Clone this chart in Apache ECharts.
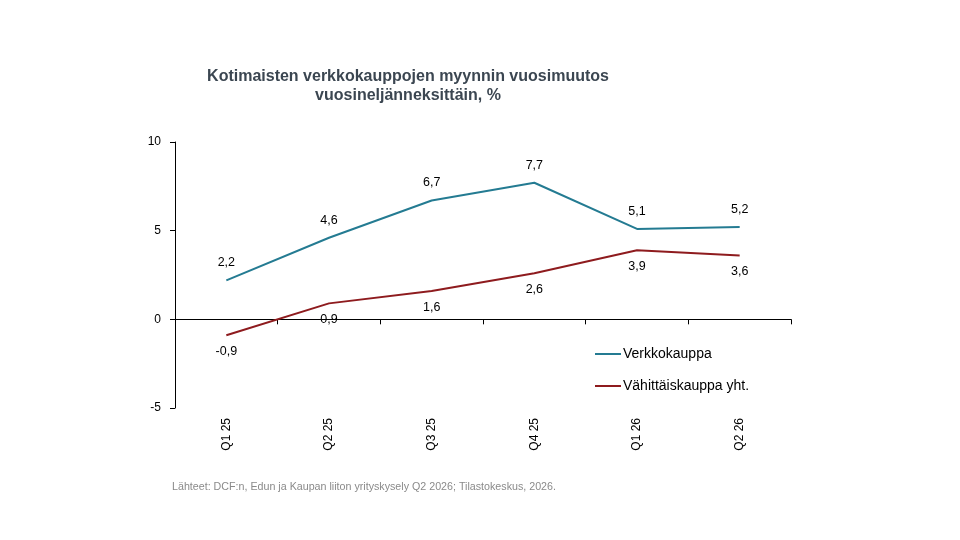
<!DOCTYPE html>
<html>
<head>
<meta charset="utf-8">
<script src="https://cdn.jsdelivr.net/npm/echarts@6/dist/echarts.min.js"></script>
<style>
  html, body { margin: 0; padding: 0; background: #fff; }
  #chart { width: 960px; height: 540px; }
</style>
</head>
<body>
<div id="chart"></div>
<script>
// Data
const quarters = ['Q1 25', 'Q2 25', 'Q3 25', 'Q4 25', 'Q1 26', 'Q2 26']
const verkkokauppa = [2.2, 4.6, 6.7, 7.7, 5.1, 5.2]
const vahittaiskauppa = [-0.9, 0.9, 1.6, 2.6, 3.9, 3.6]
const yTicks = [-5, 0, 5, 10]

const fmt = p => String(p.value).replace('.', ',')
const font = '"Liberation Sans", Arial, sans-serif'

const chart = echarts.init(document.getElementById('chart'))
chart.setOption({
  animation: false,
  textStyle: { fontFamily: font },
  title: {
    text: 'Kotimaisten verkkokauppojen myynnin vuosimuutos\nvuosineljänneksittäin, %',
    left: 403,
    top: 62,
    textAlign: 'center',
    textStyle: { fontSize: 16, fontWeight: 'bold', color: '#3b4651', lineHeight: 19, fontFamily: font }
  },
  graphic: [{
    type: 'text',
    left: 172,
    top: 482,
    style: { text: 'Lähteet: DCF:n, Edun ja Kaupan liiton yrityskysely Q2 2026; Tilastokeskus, 2026.', fill: '#8a8a8a', fontSize: 10.7, fontFamily: font }
  }],
  legend: {
    orient: 'vertical',
    left: 590,
    top: 342,
    itemGap: 18,
    itemWidth: 26,
    itemHeight: 2,
    icon: 'rect',
    textStyle: { fontSize: 14, color: '#000', padding: [0, 0, 0, -3] },
    data: ['Verkkokauppa', 'Vähittäiskauppa yht.']
  },
  grid: { left: 175, top: 142, right: 169, bottom: 132 },
  xAxis: [{
    type: 'category',
    data: quarters,
    position: 'bottom',
    axisLine: { show: false, onZero: false },
    axisTick: { show: false },
    axisLabel: { rotate: 90, fontSize: 12, color: '#000', margin: 10 }
  }, {
    type: 'category',
    data: quarters,
    position: 'bottom',
    axisLine: { show: true, onZero: true, lineStyle: { color: '#000', width: 1 } },
    axisTick: { show: true, length: 5, inside: false, lineStyle: { color: '#000' } },
    axisLabel: { show: false }
  }],
  yAxis: {
    type: 'value',
    min: yTicks[0],
    max: yTicks[yTicks.length - 1],
    interval: 5,
    axisLine: { show: true, lineStyle: { color: '#000' } },
    axisTick: { show: true, length: 5, lineStyle: { color: '#000' } },
    axisLabel: { fontSize: 12, color: '#000', margin: 14 },
    splitLine: { show: false }
  },
  series: [{
    name: 'Verkkokauppa',
    type: 'line',
    data: verkkokauppa,
    symbol: 'circle',
    symbolSize: 0,
    color: '#247b92',
    lineStyle: { width: 2, color: '#247b92' },
    label: { show: true, position: 'top', distance: 11, fontSize: 12.5, color: '#000', formatter: fmt }
  }, {
    name: 'Vähittäiskauppa yht.',
    type: 'line',
    data: vahittaiskauppa,
    symbol: 'circle',
    symbolSize: 0,
    color: '#8e1b1e',
    lineStyle: { width: 2, color: '#8e1b1e' },
    label: { show: true, position: 'bottom', distance: 10, fontSize: 12.5, color: '#000', formatter: fmt }
  }]
})
</script>
</body>
</html>
